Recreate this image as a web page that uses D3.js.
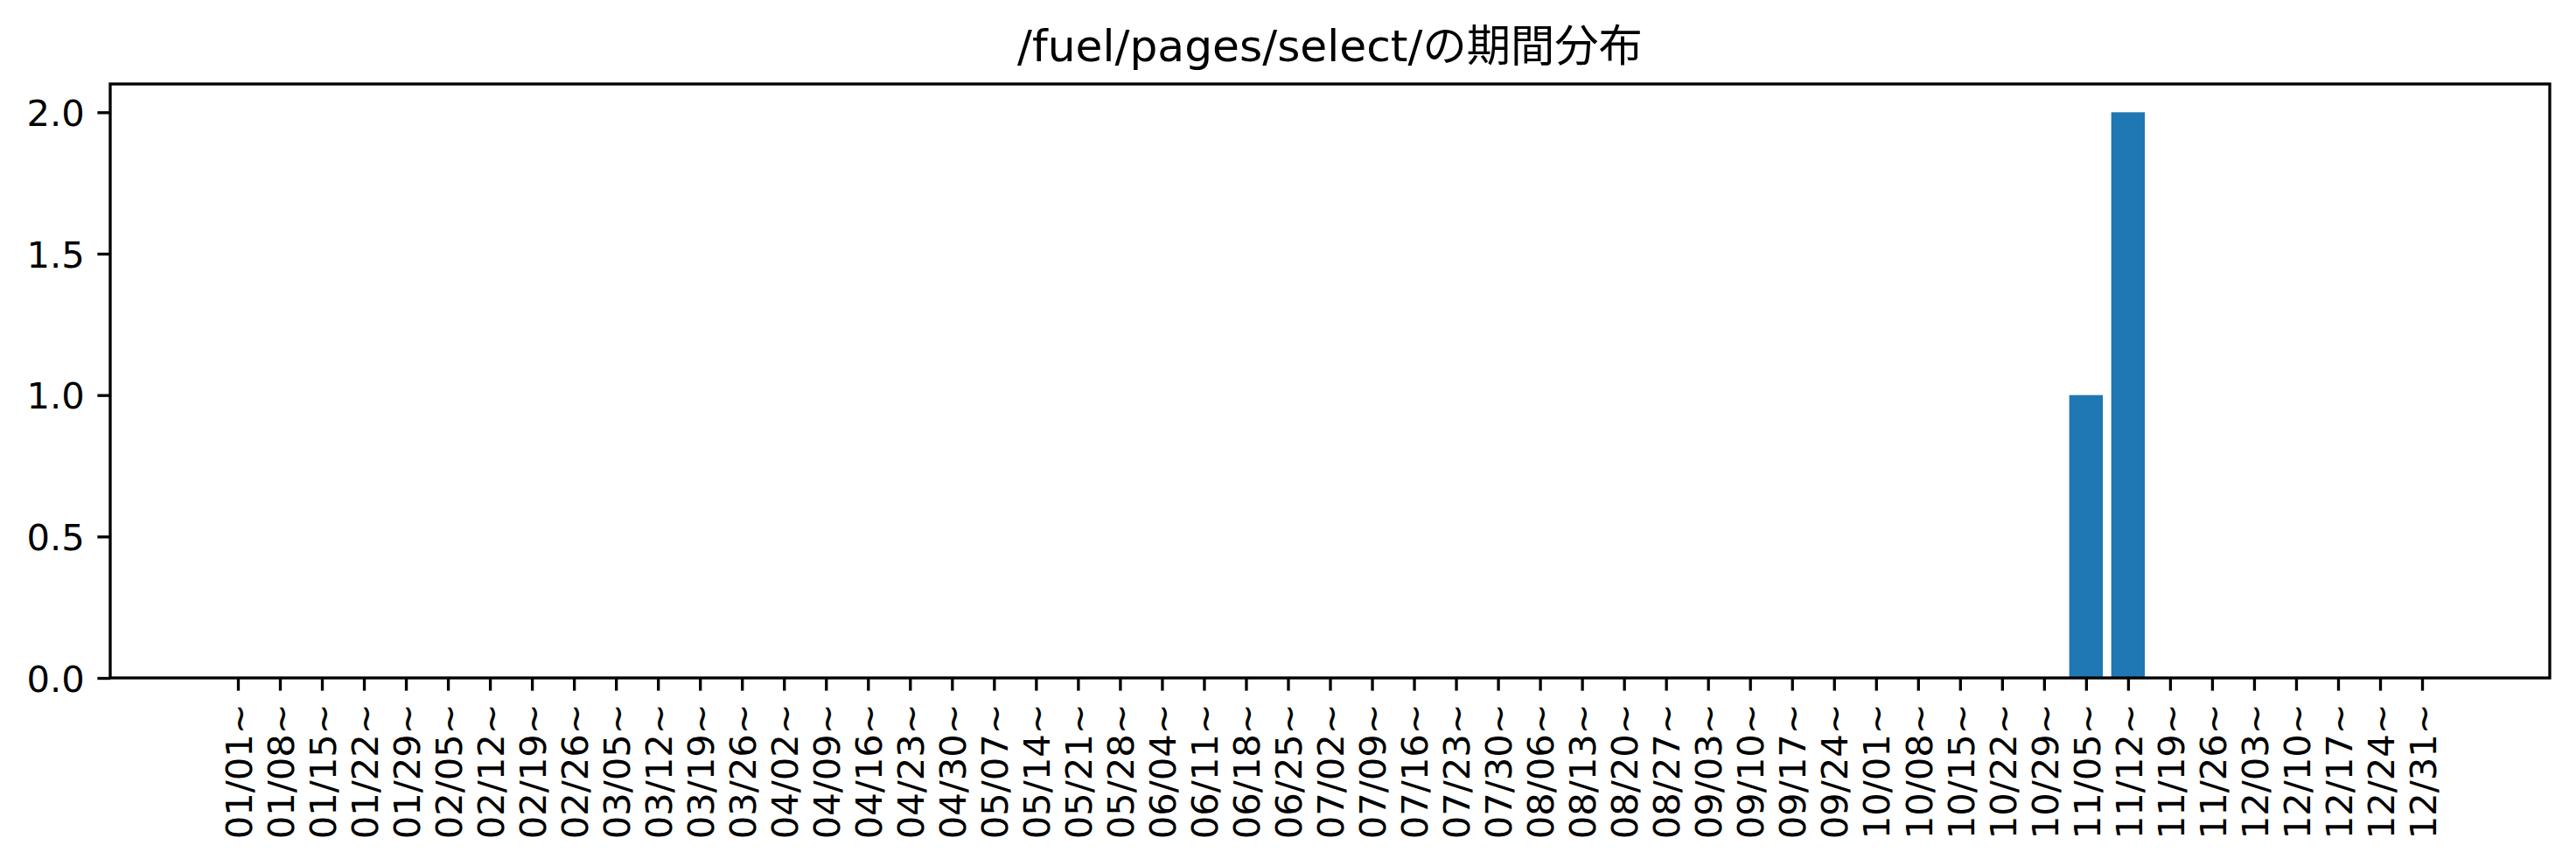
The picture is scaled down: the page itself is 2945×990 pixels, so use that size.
<!DOCTYPE html>
<html>
<head>
<meta charset="utf-8">
<script src="https://cdn.jsdelivr.net/npm/d3@7"></script>
<style>
  html, body { margin: 0; padding: 0; background: #fff; }
  svg { display: block; }
  .tick text { font-family: "DejaVu Sans", sans-serif; fill: #000; }
</style>
</head>
<body>
<svg id="chart" width="2945" height="990"></svg>
<script>
// ---- data ----
const title = "/fuel/pages/select/の期間分布";
const categories = ["01/01~","01/08~","01/15~","01/22~","01/29~","02/05~","02/12~","02/19~","02/26~","03/05~",
  "03/12~","03/19~","03/26~","04/02~","04/09~","04/16~","04/23~","04/30~","05/07~","05/14~",
  "05/21~","05/28~","06/04~","06/11~","06/18~","06/25~","07/02~","07/09~","07/16~","07/23~",
  "07/30~","08/06~","08/13~","08/20~","08/27~","09/03~","09/10~","09/17~","09/24~","10/01~",
  "10/08~","10/15~","10/22~","10/29~","11/05~","11/12~","11/19~","11/26~","12/03~","12/10~",
  "12/17~","12/24~","12/31~"];
const counts = [0,0,0,0,0,0,0,0,0,0,
  0,0,0,0,0,0,0,0,0,0,
  0,0,0,0,0,0,0,0,0,0,
  0,0,0,0,0,0,0,0,0,0,
  0,0,0,0,1,2,0,0,0,0,
  0,0,0];
const yTicks = [0.0, 0.5, 1.0, 1.5, 2.0];
const yMax = 2.1;

// ---- layout ----
const svg = d3.select("#chart");
const L = 126, R = 2915, T = 96, B = 775;
const lw = 3.33, tickLen = 14.6, pad = 14.6, fs = 41.7;
const barW = 0.8;

const n = categories.length;
const lo = -barW / 2, hi = n - 1 + barW / 2, m = 0.05 * (hi - lo);
const x = d3.scaleLinear().domain([lo - m, hi + m]).range([L, R]);
const y = d3.scaleLinear().domain([0, yMax]).range([B, T]);

// bars
svg.append("g").selectAll("rect").data(counts).join("rect")
  .attr("x", (d, i) => x(i - barW / 2))
  .attr("width", (d, i) => x(i + barW / 2) - x(i - barW / 2))
  .attr("y", d => y(d))
  .attr("height", d => y(0) - y(d))
  .attr("fill", "#1f77b4");

// y axis
const gy = svg.append("g").attr("transform", `translate(${L},0)`)
  .call(d3.axisLeft(y).tickValues(yTicks).tickFormat(d3.format(".1f"))
    .tickSize(tickLen).tickPadding(pad));
gy.select(".domain").remove();
gy.selectAll(".tick line").attr("stroke", "#000").attr("stroke-width", lw);
gy.selectAll(".tick text").attr("font-size", fs).attr("dy", "0.365em");

// x axis
const gx = svg.append("g").attr("transform", `translate(0,${B})`)
  .call(d3.axisBottom(x).tickValues(d3.range(n)).tickFormat(i => categories[i])
    .tickSize(tickLen).tickPadding(pad));
gx.select(".domain").remove();
gx.selectAll(".tick line").attr("stroke", "#000").attr("stroke-width", lw);
gx.selectAll(".tick text")
  .attr("font-size", fs)
  .attr("text-anchor", "end")
  .attr("y", 0).attr("x", 0)
  .attr("dy", "0.365em")
  .attr("transform", `translate(0,${tickLen + pad}) rotate(-90)`);

// frame
svg.append("rect")
  .attr("x", L).attr("y", T).attr("width", R - L).attr("height", B - T)
  .attr("fill", "none").attr("stroke", "#000").attr("stroke-width", lw)
  .attr("stroke-linejoin", "miter");

// title
const t = svg.append("text")
  .attr("x", (L + R) / 2).attr("y", 70)
  .attr("text-anchor", "middle")
  .attr("font-family", "'DejaVu Sans', 'Noto Sans CJK JP', sans-serif")
  .attr("font-size", 50)
  .attr("fill", "#000")
  .text(title);
const w = t.node().getComputedTextLength();
const targetW = 715;
t.attr("font-size", 50 * targetW / w);
</script>
</body>
</html>
